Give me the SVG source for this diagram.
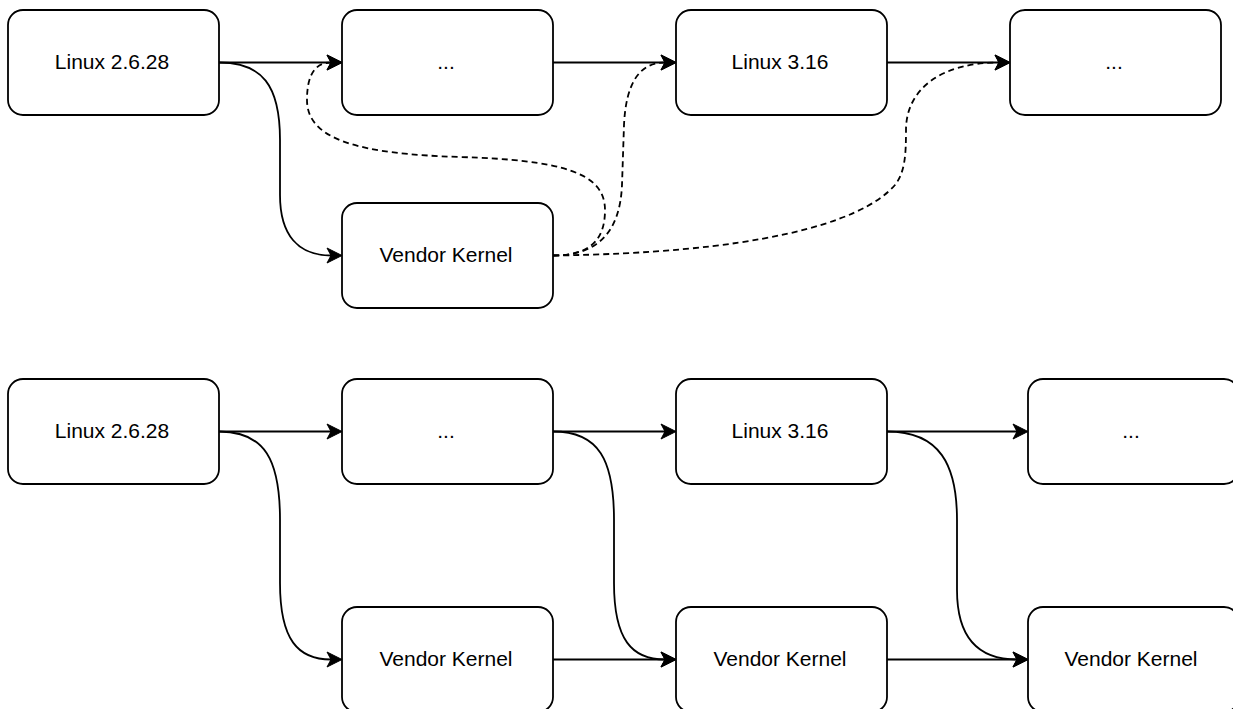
<svg xmlns="http://www.w3.org/2000/svg" width="1233" height="709" viewBox="0 0 1233 709">
<style>
.node rect{fill:#fff;stroke:#000;stroke-width:1.8}
.node text{font-family:"Liberation Sans",Arial,sans-serif;font-size:21px;fill:#000;text-anchor:middle}
.edge{fill:none;stroke:#000;stroke-width:1.8}
.dash{stroke-dasharray:6 4}
</style>
<defs>
<marker id="arr" markerUnits="userSpaceOnUse" markerWidth="17" markerHeight="17" refX="4" refY="8" orient="auto" overflow="visible">
<path d="M0,0.5 L15,8 L0,15.5 L4,8 Z" fill="#000" stroke="#000" stroke-width="1" stroke-dasharray="none"/>
</marker>
</defs>
<rect width="1233" height="709" fill="#fff"/>
<g id="connectors">
<path class="edge" marker-end="url(#arr)" d="M219,62.5 L331,62.5"/>
<path class="edge" marker-end="url(#arr)" d="M219,62.5 C262,62.5 280,85 280,140 L280,195 C280,235 298,255.5 331,255.5"/>
<path class="edge" marker-end="url(#arr)" d="M553,62.5 L665,62.5"/>
<path class="edge" marker-end="url(#arr)" d="M887,62.5 L999,62.5"/>
<path class="edge dash" marker-end="url(#arr)" d="M553,255.5 C590,255.5 605,240 605,210 C605,172 560,160 460,157 C360,154 307,140 307,100 C307,75 315,62.5 331,62.5"/>
<path class="edge dash" marker-end="url(#arr)" d="M553,255.5 C598,255.5 620,232 622,185 L624,125 C626,82 640,62.5 665,62.5"/>
<path class="edge dash" marker-end="url(#arr)" d="M553,255.5 C750,253 860,225 895,185 C905,172 906,155 906,130 C906,90 940,62.5 999,62.5"/>
<path class="edge" marker-end="url(#arr)" d="M219,431.5 L331,431.5"/>
<path class="edge" marker-end="url(#arr)" d="M219,431.5 C265,431.5 280,460 280,520 L280,583 C280,640 298,659.5 331,659.5"/>
<path class="edge" marker-end="url(#arr)" d="M553,431.5 L665,431.5"/>
<path class="edge" marker-end="url(#arr)" d="M553,431.5 C599,431.5 614,460 614,520 L614,583 C614,640 632,659.5 665,659.5"/>
<path class="edge" marker-end="url(#arr)" d="M553,659.5 L665,659.5"/>
<path class="edge" marker-end="url(#arr)" d="M887,431.5 L1017,431.5"/>
<path class="edge" marker-end="url(#arr)" d="M887,431.5 C940,431.5 957,465 957,520 L957,590 C957,640 980,659.5 1017,659.5"/>
<path class="edge" marker-end="url(#arr)" d="M887,659.5 L1017,659.5"/>
</g>
<g id="t1" class="node"><rect x="8" y="10" width="211" height="105" rx="15"/><text x="112" y="68.5">Linux 2.6.28</text></g>
<g id="t2" class="node"><rect x="342" y="10" width="211" height="105" rx="15"/><text x="446" y="68.5">...</text></g>
<g id="t3" class="node"><rect x="676" y="10" width="211" height="105" rx="15"/><text x="780" y="68.5">Linux 3.16</text></g>
<g id="t4" class="node"><rect x="1010" y="10" width="211" height="105" rx="15"/><text x="1114" y="68.5">...</text></g>
<g id="tv" class="node"><rect x="342" y="203" width="211" height="105" rx="15"/><text x="446" y="261.5">Vendor Kernel</text></g>
<g id="b1" class="node"><rect x="8" y="379" width="211" height="105" rx="15"/><text x="112" y="437.5">Linux 2.6.28</text></g>
<g id="b2" class="node"><rect x="342" y="379" width="211" height="105" rx="15"/><text x="446" y="437.5">...</text></g>
<g id="b3" class="node"><rect x="676" y="379" width="211" height="105" rx="15"/><text x="780" y="437.5">Linux 3.16</text></g>
<g id="b4" class="node"><rect x="1028" y="379" width="211" height="105" rx="15"/><text x="1131" y="437.5">...</text></g>
<g id="bv1" class="node"><rect x="342" y="607" width="211" height="105" rx="15"/><text x="446" y="665.5">Vendor Kernel</text></g>
<g id="bv2" class="node"><rect x="676" y="607" width="211" height="105" rx="15"/><text x="780" y="665.5">Vendor Kernel</text></g>
<g id="bv3" class="node"><rect x="1028" y="607" width="211" height="105" rx="15"/><text x="1131" y="665.5">Vendor Kernel</text></g>
</svg>
